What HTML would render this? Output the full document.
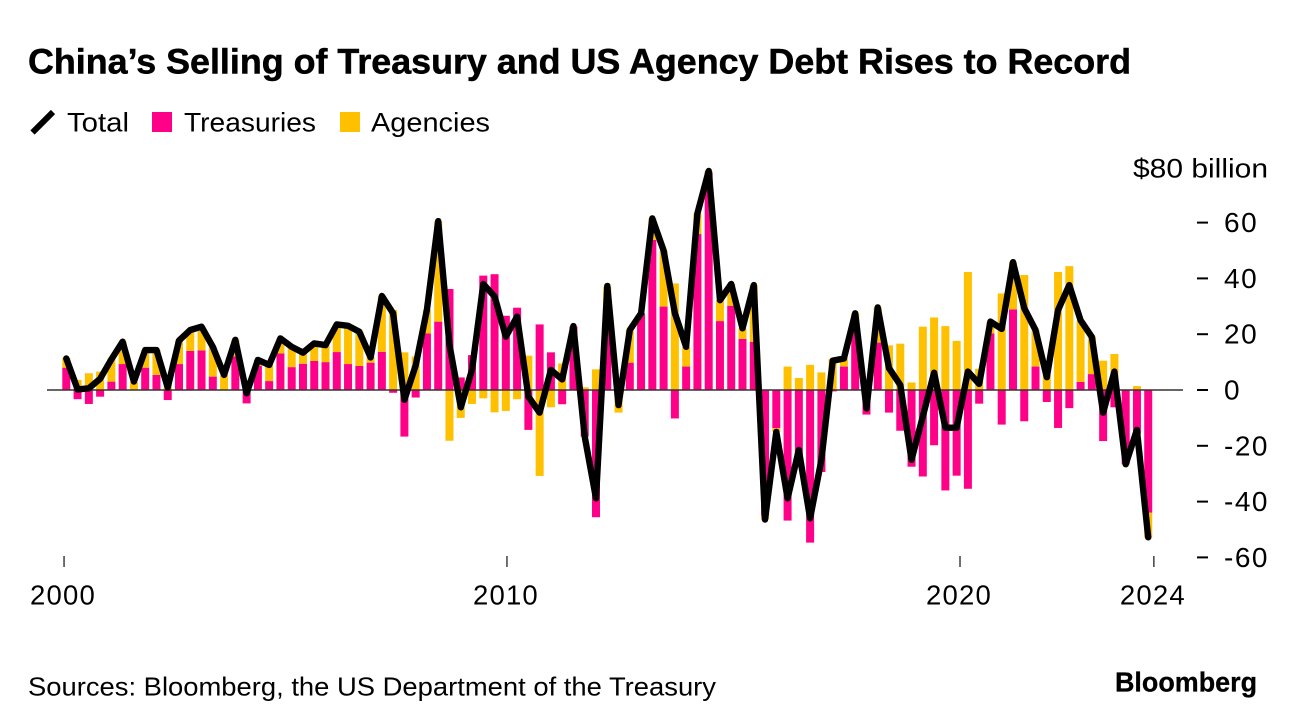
<!DOCTYPE html>
<html lang="en">
<head>
<meta charset="utf-8">
<title>China's Selling of Treasury and US Agency Debt Rises to Record</title>
<style>
html,body{margin:0;padding:0;background:#fff;}
body{width:1296px;height:728px;overflow:hidden;}
svg{display:block;font-family:"Liberation Sans",sans-serif;fill:#000;}
</style>
</head>
<body>
<svg id="chart" width="1296" height="728" viewBox="0 0 1296 728" xmlns="http://www.w3.org/2000/svg">
  <rect x="0" y="0" width="1296" height="728" fill="#fff"/>
  <text x="28" y="73.5" font-size="35" font-weight="700" stroke="#000" stroke-width="0.5" textLength="1103" lengthAdjust="spacingAndGlyphs">China’s Selling of Treasury and US Agency Debt Rises to Record</text>
  <g>
    <line x1="32.5" y1="132.5" x2="53" y2="112" stroke="#000" stroke-width="6"/>
    <text x="67" y="131.5" font-size="27" textLength="62" lengthAdjust="spacingAndGlyphs">Total</text>
    <rect x="152" y="112" width="20" height="20" fill="#ff0089"/>
    <text x="184" y="131.5" font-size="27" textLength="132" lengthAdjust="spacingAndGlyphs">Treasuries</text>
    <rect x="340" y="112" width="20" height="20" fill="#ffc000"/>
    <text x="371" y="131.5" font-size="27" textLength="119" lengthAdjust="spacingAndGlyphs">Agencies</text>
  </g>
  <text x="1133" y="177.5" font-size="27" textLength="135" lengthAdjust="spacingAndGlyphs">$80 billion</text>
  <g id="bars"></g>
  <line id="zero" stroke="#333" stroke-width="1.6"/>
  <polyline id="totalLine" fill="none" stroke="#000" stroke-width="6.4" stroke-linejoin="round" stroke-linecap="round"/>
  <g id="yAxis"></g>
  <g id="xAxis"></g>
  <text x="28" y="695.5" font-size="26" textLength="688" lengthAdjust="spacingAndGlyphs">Sources: Bloomberg, the US Department of the Treasury</text>
  <text x="1115" y="691.5" font-size="28" font-weight="700" stroke="#000" stroke-width="0.3" textLength="142" lengthAdjust="spacingAndGlyphs">Bloomberg</text>
</svg>
<script>
const categories = [
"2000Q1","2000Q2","2000Q3","2000Q4","2001Q1","2001Q2","2001Q3","2001Q4",
"2002Q1","2002Q2","2002Q3","2002Q4","2003Q1","2003Q2","2003Q3","2003Q4",
"2004Q1","2004Q2","2004Q3","2004Q4","2005Q1","2005Q2","2005Q3","2005Q4",
"2006Q1","2006Q2","2006Q3","2006Q4","2007Q1","2007Q2","2007Q3","2007Q4",
"2008Q1","2008Q2","2008Q3","2008Q4","2009Q1","2009Q2","2009Q3","2009Q4",
"2010Q1","2010Q2","2010Q3","2010Q4","2011Q1","2011Q2","2011Q3","2011Q4",
"2012Q1","2012Q2","2012Q3","2012Q4","2013Q1","2013Q2","2013Q3","2013Q4",
"2014Q1","2014Q2","2014Q3","2014Q4","2015Q1","2015Q2","2015Q3","2015Q4",
"2016Q1","2016Q2","2016Q3","2016Q4","2017Q1","2017Q2","2017Q3","2017Q4",
"2018Q1","2018Q2","2018Q3","2018Q4","2019Q1","2019Q2","2019Q3","2019Q4",
"2020Q1","2020Q2","2020Q3","2020Q4","2021Q1","2021Q2","2021Q3","2021Q4",
"2022Q1","2022Q2","2022Q3","2022Q4","2023Q1","2023Q2","2023Q3","2023Q4",
"2024Q1"];
const treasuries = [
8,-3.3,-5,-2.4,3,9.3,0,8,5.4,-3.6,9.3,14,14.2,4.8,0,12,-4.8,8.7,3.2,13.1,
8.2,9.4,10.4,10,13.6,9.3,8.6,9.8,13.7,-1,-16.7,-2.7,20.3,24.5,36.2,4.5,12.5,41,41.5,26.6,
29.5,-14.3,23.5,13.5,-5.1,22.7,-16.7,-45.6,29,3,9.8,27.5,53.8,29.9,-10.2,8.4,55.9,78,24.7,30.2,
18.3,17.3,-45,-13.7,-46.8,-25.8,-54.7,-29.4,-0.5,8.4,21.5,-8.8,17,-8.1,-14.6,-27.5,-31,-19.8,-36,-30.7,
-35.4,-4.9,20.3,-12.4,28.9,-11.2,8.4,-4.3,-13.6,-6.5,2.9,5.7,-18.3,-6.2,-26.6,-15.7,-44];
const agencies = [
3.5,3.6,6,6.6,8.3,8,3,6.3,9,4.5,8.4,7.5,8.5,10.7,5.4,6,3.6,2.1,5.8,5.4,
7.3,4,6.3,6.1,9.9,13.7,12.3,2,20,28.7,13.5,12,8.4,36,-18.2,-10,-5,-3,-8,-7.5,
-3.3,12.3,-30.8,-6.2,9.5,0.2,1,7.4,8,-8.1,11.7,0,7.7,20,38.2,7.1,7.4,0.5,7.5,7.8,
3.8,20.3,-1.4,-1.3,8.4,4.3,9,6.3,11,2.9,6,2.2,12.6,16,16.6,2.7,22.7,26,22.9,17.6,
42.3,7.6,4,34.6,17,41.2,13,5.5,42.3,44.4,22,13.4,10.5,12.9,-0.2,1.4,-8.9];
const total = [
11.3,0.2,0.6,4,11,17.3,3,14.3,14.3,0.9,17.7,21.5,22.7,15.5,5.4,18,-1.2,10.8,9,18.5,
15.5,13.4,16.7,16.1,23.5,23,20.9,11.7,33.7,27.5,-3.5,8.8,28.7,60.5,16.1,-6.2,7.2,38,33.5,19.1,
26.3,-2.4,-8.1,7.2,3.8,22.9,-16.7,-38.8,37.3,-5.4,21.5,27.5,61.5,50,27.5,15.5,63.3,78.5,32.2,38,
22.1,37.6,-46.4,-15,-38.8,-21.5,-46,-25,10.5,11.3,27.5,-6.6,29.6,7.8,1.8,-25,-9.5,6.2,-13.5,-13.5,
6.6,2.2,24.5,21.9,45.8,29.3,21.5,4.6,28.7,37.6,25,19,-8.1,6.6,-26.6,-14.3,-52.8];
const yTickValues = [60,40,20,0,-20,-40,-60];
const xTickLabels = ["2000","2010","2020","2024"];
const xTickQuarterIndex = [-0.2,39.1,79.3,96.5];

const SVGNS = "http://www.w3.org/2000/svg";
function xScale(i){ return 66.3 + i * 11.27; }
function yScale(v){ return 390 - v * 2.79; }
function make(tag, attrs){
  const el = document.createElementNS(SVGNS, tag);
  for (const k in attrs) el.setAttribute(k, attrs[k]);
  return el;
}
const BAR_W = 8;
const barsG = document.getElementById("bars");
function drawSegment(i, from, to, color, kind){
  const y1 = yScale(from), y2 = yScale(to);
  const r = make("rect", {x: xScale(i) - BAR_W / 2, y: Math.min(y1, y2), width: BAR_W, height: Math.abs(y2 - y1), fill: color});
  
  
  barsG.appendChild(r);
}
categories.forEach(function(c, i){
  const t = treasuries[i], a = agencies[i];
  let pos = 0, neg = 0;
  if (t >= 0) { drawSegment(i, 0, t, "#ff0089", "treasuries"); pos = t; }
  else { drawSegment(i, 0, t, "#ff0089", "treasuries"); neg = t; }
  if (a >= 0) { drawSegment(i, pos, pos + a, "#ffc000", "agencies"); }
  else { drawSegment(i, neg, neg + a, "#ffc000", "agencies"); }
});
const zero = document.getElementById("zero");
zero.setAttribute("x1", 47);
zero.setAttribute("x2", 1183);
zero.setAttribute("y1", yScale(0));
zero.setAttribute("y2", yScale(0));
document.getElementById("totalLine").setAttribute("points",
  total.map(function(v, i){ return xScale(i).toFixed(1) + "," + yScale(v).toFixed(1); }).join(" "));

const yG = document.getElementById("yAxis");
yTickValues.forEach(function(v){
  const y = yScale(v);
  const tick = make("line", {x1: 1197, x2: 1208, y1: y, y2: y, stroke: "#000", "stroke-width": 2});
  
  
  yG.appendChild(tick);
  const label = make("text", {x: 1224, y: y + 9.5, "font-size": 28, "letter-spacing": 1.5});
  
  
  label.textContent = String(v);
  yG.appendChild(label);
});
const xG = document.getElementById("xAxis");
xTickLabels.forEach(function(lab, j){
  const x = xScale(xTickQuarterIndex[j]);
  const tick = make("line", {x1: x, x2: x, y1: 556, y2: 567, stroke: "#333", "stroke-width": 1.4});
  
  
  xG.appendChild(tick);
  const label = make("text", {x: x - 1, y: 604.5, "font-size": 27.5, "text-anchor": "middle", "letter-spacing": 1.2});
  
  
  label.textContent = lab;
  xG.appendChild(label);
});
</script>
</body>
</html>
